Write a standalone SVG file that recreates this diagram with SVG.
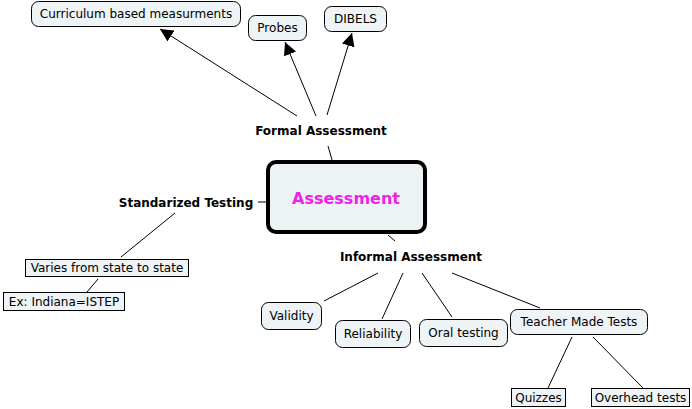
<svg xmlns="http://www.w3.org/2000/svg" width="692" height="409" viewBox="0 0 692 409">
<style>
text{font-family:"DejaVu Sans",Verdana,sans-serif;font-size:12px;fill:#000}
.b{font-weight:bold}
.n{fill:#eef3f6;stroke:#000;stroke-width:1}
.c line{stroke:#000;stroke-width:1}
.main{fill:#edf2f5;stroke:#000;stroke-width:4}
.t{font-size:16px;font-weight:bold;fill:#ee22ee}
</style>
<defs>
<marker id="ah" viewBox="0 0 10 10" refX="10" refY="5" markerWidth="13" markerHeight="13" markerUnits="userSpaceOnUse" orient="auto">
<path d="M0,0 L10,5 L0,10 z" fill="#000"/>
</marker>
</defs>
<rect width="692" height="409" fill="#fff"/>
<g class="c" id="connectors">
<line x1="297" y1="116" x2="160" y2="29" marker-end="url(#ah)"/>
<line x1="316" y1="116" x2="285" y2="42" marker-end="url(#ah)"/>
<line x1="327" y1="115" x2="352" y2="33" marker-end="url(#ah)"/>
<line x1="328" y1="146" x2="332" y2="160"/>
<line x1="258" y1="202" x2="266" y2="202"/>
<line x1="175" y1="213" x2="121" y2="257"/>
<line x1="98" y1="279" x2="87" y2="292"/>
<line x1="388" y1="235" x2="395" y2="241"/>
<line x1="378" y1="273" x2="324" y2="301"/>
<line x1="403" y1="273" x2="382" y2="319"/>
<line x1="422" y1="273" x2="452" y2="317"/>
<line x1="452" y1="273" x2="540" y2="308"/>
<line x1="572" y1="337" x2="548" y2="388"/>
<line x1="593" y1="337" x2="643" y2="388"/>
</g>
<g id="assessment">
<rect class="main" x="268" y="162" width="157" height="70" rx="8"/>
<text class="t" x="346" y="204" text-anchor="middle">Assessment</text>
</g>
<g id="curriculum">
<rect class="n" x="31.5" y="1.5" width="209" height="25" rx="7"/>
<text x="136" y="18" text-anchor="middle">Curriculum based measurments</text>
</g>
<g id="probes">
<rect class="n" x="248.5" y="15.5" width="58" height="25" rx="7"/>
<text x="277.5" y="32" text-anchor="middle">Probes</text>
</g>
<g id="dibels">
<rect class="n" x="324.5" y="6.5" width="62" height="25" rx="7"/>
<text x="355.5" y="23" text-anchor="middle">DIBELS</text>
</g>
<g id="formal">
<text class="b" x="321" y="135" text-anchor="middle">Formal Assessment</text>
</g>
<g id="standardized">
<text class="b" x="186" y="207" text-anchor="middle">Standarized Testing</text>
</g>
<g id="varies">
<rect class="n" x="25.5" y="259.5" width="163" height="17"/>
<text x="107" y="272" text-anchor="middle">Varies from state to state</text>
</g>
<g id="indiana">
<rect class="n" x="3.5" y="292.5" width="121" height="18"/>
<text x="64" y="306" text-anchor="middle">Ex: Indiana=ISTEP</text>
</g>
<g id="informal">
<text class="b" x="411" y="261" text-anchor="middle">Informal Assessment</text>
</g>
<g id="validity">
<rect class="n" x="261.5" y="302.5" width="60" height="27" rx="7"/>
<text x="291.5" y="320" text-anchor="middle">Validity</text>
</g>
<g id="reliability">
<rect class="n" x="335.5" y="320.5" width="75" height="27" rx="7"/>
<text x="373" y="338" text-anchor="middle">Reliability</text>
</g>
<g id="oral">
<rect class="n" x="419.5" y="319.5" width="88" height="27" rx="7"/>
<text x="463.5" y="337" text-anchor="middle">Oral testing</text>
</g>
<g id="teacher">
<rect class="n" x="510.5" y="309.5" width="137" height="25" rx="7"/>
<text x="579" y="326" text-anchor="middle">Teacher Made Tests</text>
</g>
<g id="quizzes">
<rect class="n" x="511.5" y="388.5" width="54" height="18"/>
<text x="538.5" y="402" text-anchor="middle">Quizzes</text>
</g>
<g id="overhead">
<rect class="n" x="591.5" y="388.5" width="98" height="18"/>
<text x="640.5" y="402" text-anchor="middle">Overhead tests</text>
</g>
</svg>
